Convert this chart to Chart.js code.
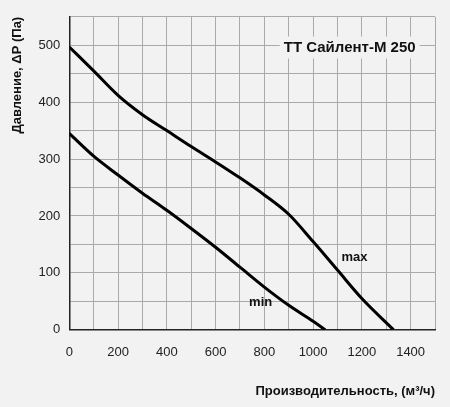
<!DOCTYPE html><html><head><meta charset="utf-8">
<script src="https://cdn.jsdelivr.net/npm/chart.js@4"></script>
<style>html,body{margin:0;background:#f2f2f2}#w{width:450px;height:407px}</style></head><body>
<div id="w"><canvas id="c"></canvas></div>
<script>
const maxX=[0,100,200,300,400,500,600,700,800,900,1000,1100,1200,1330];
const maxY=[497,455,412,378,350,322,295,267,237,203,155,105,55,0];
const minX=[0,100,200,300,400,500,600,700,800,900,1000,1050];
const minY=[345,305,272,240,210,178,145,110,75,43,15,0];
const title='ТТ Сайлент-М 250';
const xTicks=[0,200,400,600,800,1000,1200,1400];
const yTicks=[0,100,200,300,400,500];
const lbl={
 id:'lbl',
 afterDatasetsDraw(ch){
  const c=ch.ctx,x=ch.scales.x,y=ch.scales.y;
  c.save();c.font='bold 13px Arial';c.fillStyle='#111';c.textAlign='center';c.textBaseline='middle';
  c.fillText('max',x.getPixelForValue(1170),y.getPixelForValue(127));
  c.fillText('min',x.getPixelForValue(785),y.getPixelForValue(48));
  c.font='bold 15px Arial';
  const tx=x.getPixelForValue(1150),ty=y.getPixelForValue(496);
  const w=c.measureText(title).width;
  c.fillStyle='#f2f2f2';c.fillRect(tx-w/2-4,ty-11,w+8,22);
  c.fillStyle='#111';c.fillText(title,tx,ty);
  c.restore();
 }};
new Chart(document.getElementById('c'),{type:'scatter',
 data:{datasets:[
  {data:maxX.map((v,i)=>({x:v,y:maxY[i]})),showLine:true,borderColor:'#000',borderWidth:3,pointRadius:0,cubicInterpolationMode:'monotone'},
  {data:minX.map((v,i)=>({x:v,y:minY[i]})),showLine:true,borderColor:'#000',borderWidth:3,pointRadius:0,cubicInterpolationMode:'monotone'}]},
 options:{responsive:true,maintainAspectRatio:false,animation:false,
  layout:{padding:{top:9,right:10,left:6,bottom:4}},
  plugins:{legend:{display:false},tooltip:{enabled:false}},
  scales:{
   x:{min:0,max:1500,border:{color:'#222',width:1.5},
    grid:{color:'#aaa',drawTicks:false},
    ticks:{stepSize:100,padding:15,autoSkip:false,maxRotation:0,color:'#222',font:{family:'Arial',size:13},
     callback:v=>xTicks.includes(v)?v:''},
    title:{display:true,text:'Производительность, (м³/ч)',color:'#111',font:{family:'Arial',size:13,weight:'bold'},align:'end',padding:{top:8}}},
   y:{min:0,max:550,border:{color:'#222',width:1.5},
    grid:{color:'#aaa',drawTicks:false},
    ticks:{stepSize:50,padding:9,autoSkip:false,color:'#222',font:{family:'Arial',size:13},
     callback:v=>yTicks.includes(v)?v:''},
    title:{display:true,text:'Давление, ΔP (Па)',color:'#111',font:{family:'Arial',size:13,weight:'bold'},align:'end',padding:{bottom:4}}}}},
 plugins:[lbl]});
</script></body></html>
